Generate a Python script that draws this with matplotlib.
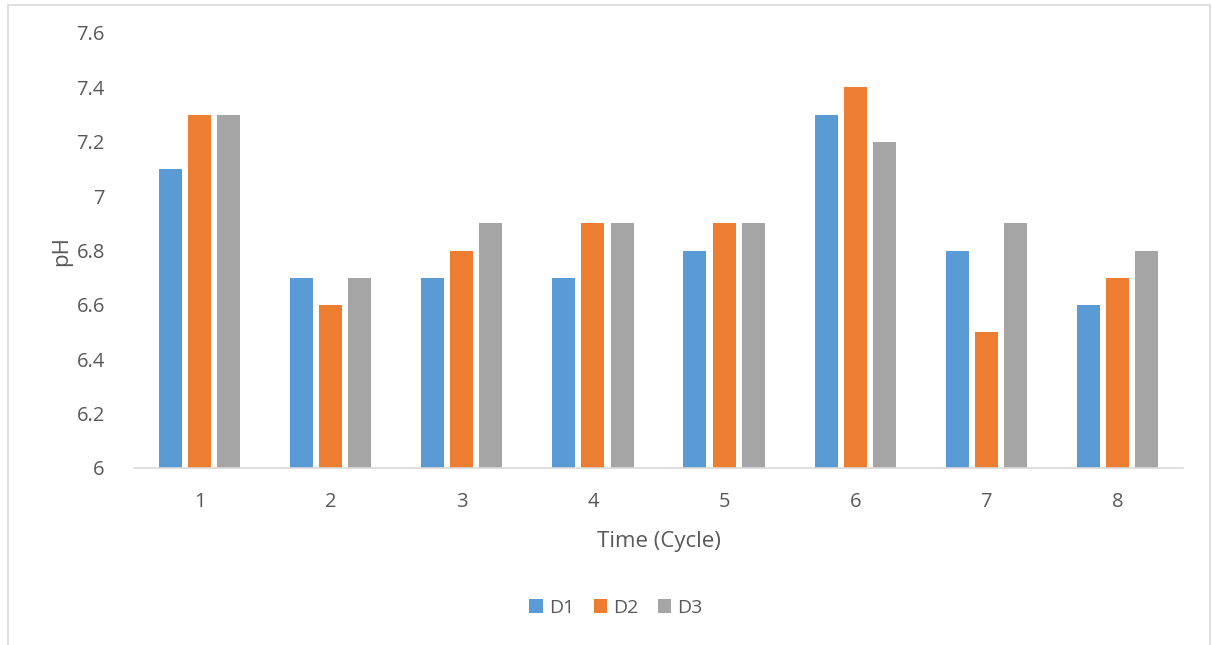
import numpy as np
import matplotlib.pyplot as plt
from matplotlib.patches import Rectangle

plt.rcParams['font.family'] = ['Open Sans', 'DejaVu Sans']

cycles = ["1", "2", "3", "4", "5", "6", "7", "8"]
d1 = [7.1, 6.7, 6.7, 6.7, 6.8, 7.3, 6.8, 6.6]
d2 = [7.3, 6.6, 6.8, 6.9, 6.9, 7.4, 6.5, 6.7]
d3 = [7.3, 6.7, 6.9, 6.9, 6.9, 7.2, 6.9, 6.8]
series_names = ["D1", "D2", "D3"]
colors = ["#5B9BD5", "#ED7D31", "#A5A5A5"]

W, H = 1212, 645
fig = plt.figure(figsize=(W / 100, H / 100), dpi=100)
ax = fig.add_axes([134 / W, 1 - 468 / H, (1183 - 134) / W, (468 - 33) / H])

# chart border
fig.patches.append(Rectangle((8 / W, -0.05), (1210 - 8) / W, 1.05 - 5 / H,
                             transform=fig.transFigure, fill=False,
                             edgecolor="#D9D9D9", linewidth=1.2))

x = np.arange(1, len(cycles) + 1)
bw = 0.175
step = 0.222
for i, (vals, name, col) in enumerate(zip([d1, d2, d3], series_names, colors)):
    ax.bar(x + (i - 1) * step, np.array(vals) - 6, bw, bottom=6,
           color=col, label=name, zorder=2)

ax.set_xlim(0.5, 8.5)
ax.set_ylim(6, 7.6)
ax.set_xticks(x)
ax.set_xticklabels(cycles)
yt = np.arange(6, 7.61, 0.2)
ax.set_yticks(yt)
ax.set_yticklabels([f"{v:g}" for v in np.round(yt, 1)])

for s in ["top", "right", "left"]:
    ax.spines[s].set_visible(False)
ax.spines["bottom"].set_color("#D9D9D9")
ax.spines["bottom"].set_linewidth(1.2)
ax.tick_params(axis="both", length=0, labelsize=14.5, colors="#595959")
ax.tick_params(axis="y", pad=21)
ax.tick_params(axis="x", pad=17)

ax.set_ylabel("pH", fontsize=16, color="#595959", labelpad=3)
ax.set_xlabel("Time (Cycle)", fontsize=16, color="#595959", labelpad=14)

leg = fig.legend(loc="center", bbox_to_anchor=(616 / W, 1 - 608 / H), ncol=3,
                 frameon=False, fontsize=14, handlelength=0.7, handleheight=0.7,
                 handletextpad=0.3, columnspacing=1.0)
for t in leg.get_texts():
    t.set_color("#595959")

fig.savefig("out.png", dpi=100)
